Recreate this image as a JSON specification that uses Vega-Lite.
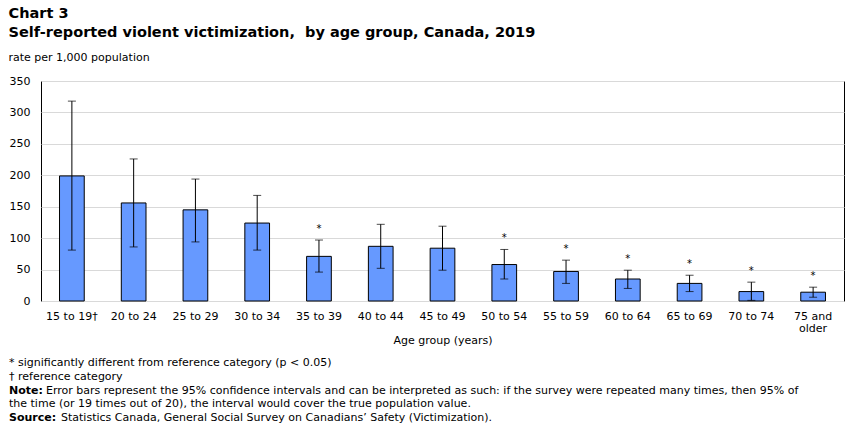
{
  "$schema": "https://vega.github.io/schema/vega-lite/v6.json",
  "padding": {"left": 8, "top": 6, "right": 8, "bottom": 4},
  "background": "white",
  "title": {
    "text": ["Chart 3", "Self-reported violent victimization,\u00a0 by age group, Canada, 2019"],
    "subtitle": "rate per 1,000 population",
    "anchor": "start",
    "font": "DejaVu Sans",
    "fontSize": 14.5,
    "fontWeight": "bold",
    "lineHeight": 19,
    "color": "#000000",
    "subtitleFont": "DejaVu Sans",
    "subtitleFontSize": 11,
    "subtitleColor": "#000000",
    "subtitlePadding": 11,
    "offset": 11
  },
  "spacing": 10,
  "vconcat": [
    {
      "width": 803,
      "height": 220,
      "view": {"stroke": "#000000", "strokeWidth": 1},
      "data": {
        "values": [
          {"age": "15 to 19†", "rate": 199, "lower": 81, "upper": 318, "sig": ""},
          {"age": "20 to 24", "rate": 156, "lower": 86, "upper": 226, "sig": ""},
          {"age": "25 to 29", "rate": 145, "lower": 94, "upper": 194, "sig": ""},
          {"age": "30 to 34", "rate": 124, "lower": 81, "upper": 168, "sig": ""},
          {"age": "35 to 39", "rate": 71, "lower": 46, "upper": 97, "sig": "*"},
          {"age": "40 to 44", "rate": 87, "lower": 52, "upper": 122, "sig": ""},
          {"age": "45 to 49", "rate": 84, "lower": 49, "upper": 119, "sig": ""},
          {"age": "50 to 54", "rate": 58, "lower": 35, "upper": 82, "sig": "*"},
          {"age": "55 to 59", "rate": 47, "lower": 28, "upper": 65, "sig": "*"},
          {"age": "60 to 64", "rate": 35, "lower": 20, "upper": 49, "sig": "*"},
          {"age": "65 to 69", "rate": 28, "lower": 15, "upper": 41, "sig": "*"},
          {"age": "70 to 74", "rate": 15, "lower": 1, "upper": 30, "sig": "*"},
          {"age": "75 and older", "rate": 14, "lower": 6, "upper": 22, "sig": "*"}
        ]
      },
      "encoding": {
        "x": {
          "field": "age",
          "type": "nominal",
          "sort": null,
          "scale": {"paddingInner": 0.6, "paddingOuter": 0.3},
          "axis": {
            "title": "Age group (years)",
            "titleFont": "DejaVu Sans",
            "titleFontSize": 11,
            "titleFontWeight": "normal",
            "titleColor": "#000000",
            "titlePadding": 1,
            "labelFont": "DejaVu Sans",
            "labelFontSize": 11,
            "labelColor": "#000000",
            "labelAngle": 0,
            "labelPadding": 9,
            "labelLineHeight": 12,
            "labelExpr": "datum.label == '75 and older' ? ['75 and', 'older'] : datum.label",
            "ticks": false,
            "domain": false,
            "grid": false
          }
        }
      },
      "resolve": {"axis": {"y": "shared"}},
      "layer": [
        {
          "mark": {"type": "bar", "color": "#6699FF", "stroke": "#000000", "strokeWidth": 1},
          "encoding": {
            "y": {
              "field": "rate",
              "type": "quantitative",
              "scale": {"domain": [0, 350], "nice": false},
              "axis": {
                "title": null,
                "values": [0, 50, 100, 150, 200, 250, 300, 350],
                "labelFont": "DejaVu Sans",
                "labelFontSize": 11,
                "labelColor": "#000000",
                "labelPadding": 11,
                "labelOverlap": false,
                "ticks": false,
                "domain": false,
                "grid": true,
                "gridColor": "#D9D9D9",
                "gridWidth": 1
              }
            }
          }
        },
        {
          "mark": {"type": "rule", "color": "#000000", "strokeWidth": 1},
          "encoding": {
            "y": {"field": "lower", "type": "quantitative", "axis": {"title": null, "values": [0, 50, 100, 150, 200, 250, 300, 350], "labelOverlap": false}},
            "y2": {"field": "upper"}
          }
        },
        {
          "mark": {"type": "tick", "color": "#000000", "size": 8, "thickness": 1},
          "encoding": {"y": {"field": "lower", "type": "quantitative", "axis": {"title": null, "values": [0, 50, 100, 150, 200, 250, 300, 350], "labelOverlap": false}}}
        },
        {
          "mark": {"type": "tick", "color": "#000000", "size": 8, "thickness": 1},
          "encoding": {"y": {"field": "upper", "type": "quantitative", "axis": {"title": null, "values": [0, 50, 100, 150, 200, 250, 300, 350], "labelOverlap": false}}}
        },
        {
          "mark": {"type": "text", "font": "DejaVu Sans", "fontSize": 10, "color": "#000000", "dy": -11, "baseline": "middle"},
          "encoding": {
            "y": {"field": "upper", "type": "quantitative", "axis": {"title": null, "values": [0, 50, 100, 150, 200, 250, 300, 350], "labelOverlap": false}},
            "text": {"field": "sig"}
          }
        }
      ]
    },
    {
      "width": 803,
      "height": {"step": 13.8},
      "view": {"stroke": null},
      "data": {
        "values": [
          {"line": 1, "kind": "plain", "bold": "", "text": "* significantly different from reference category (p < 0.05)"},
          {"line": 2, "kind": "plain", "bold": "", "text": "† reference category"},
          {"line": 3, "kind": "note", "bold": "Note:", "text": "Error bars represent the 95% confidence intervals and can be interpreted as such: if the survey were repeated many times, then 95% of"},
          {"line": 4, "kind": "plain", "bold": "", "text": "the time (or 19 times out of 20), the interval would cover the true population value."},
          {"line": 5, "kind": "source", "bold": "Source:", "text": "Statistics Canada, General Social Survey on Canadians’ Safety (Victimization)."}
        ]
      },
      "encoding": {
        "x": {"value": 0},
        "y": {"field": "line", "type": "ordinal", "axis": null}
      },
      "layer": [
        {
          "mark": {"type": "text", "align": "left", "font": "DejaVu Sans", "fontSize": 11, "fontWeight": "bold", "color": "#000000", "dx": -32},
          "encoding": {"text": {"field": "bold"}}
        },
        {
          "transform": [{"filter": "datum.kind == 'plain'"}],
          "mark": {"type": "text", "align": "left", "font": "DejaVu Sans", "fontSize": 11, "color": "#000000", "dx": -32},
          "encoding": {"text": {"field": "text"}}
        },
        {
          "transform": [{"filter": "datum.kind == 'note'"}],
          "mark": {"type": "text", "align": "left", "font": "DejaVu Sans", "fontSize": 11, "color": "#000000", "dx": 5},
          "encoding": {"text": {"field": "text"}}
        },
        {
          "transform": [{"filter": "datum.kind == 'source'"}],
          "mark": {"type": "text", "align": "left", "font": "DejaVu Sans", "fontSize": 11, "color": "#000000", "dx": 20},
          "encoding": {"text": {"field": "text"}}
        }
      ]
    }
  ]
}
